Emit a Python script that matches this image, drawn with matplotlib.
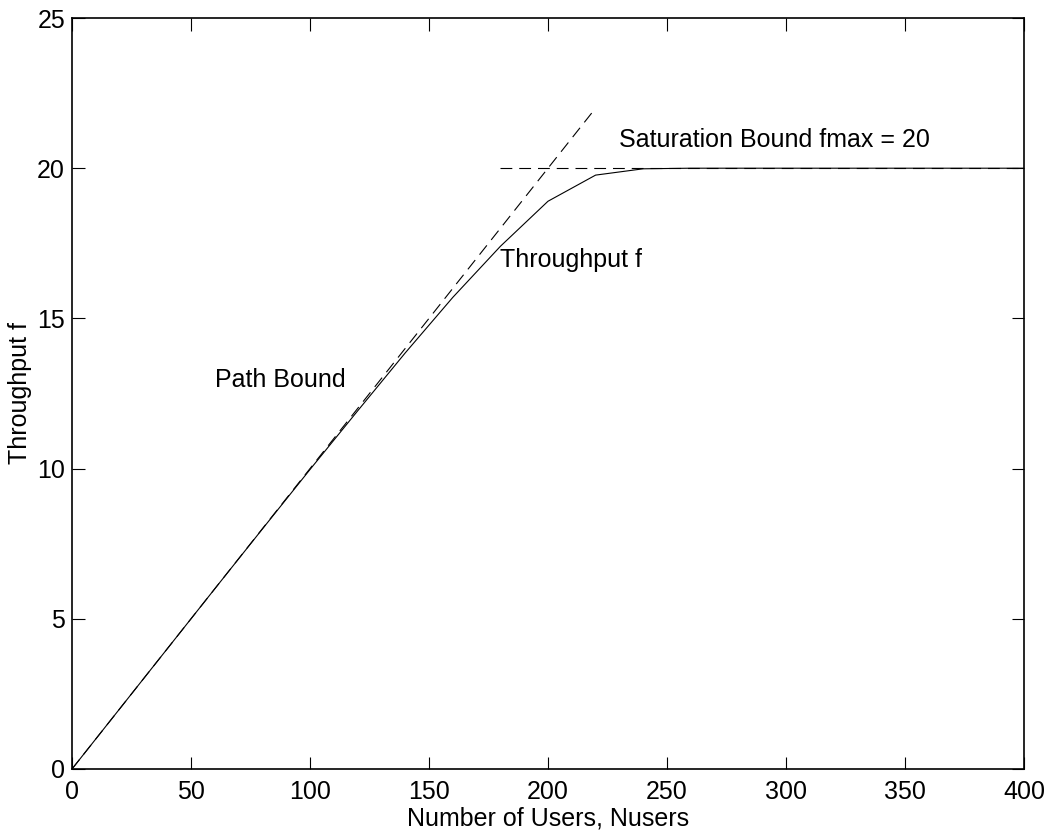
import matplotlib
matplotlib.use("Agg")
import matplotlib.pyplot as plt

plt.rcParams['font.family'] = ['Liberation Sans', 'DejaVu Sans']
plt.rcParams['lines.scale_dashes'] = False

users = [0, 20, 40, 60, 80, 100, 120, 140, 160, 180, 200, 220, 240, 260, 280,
         300, 320, 340, 360, 380, 400]
throughput = [0, 2.0, 4.0, 6.0, 7.99, 9.97, 11.92, 13.85, 15.7, 17.4, 18.9,
              19.77, 19.98, 20.0, 20.0, 20.0, 20.0, 20.0, 20.0, 20.0, 20.0]
path_x = [0, 220]
path_y = [0, 22]
sat_x = [180, 400]
sat_y = [20, 20]

xticks = [0, 50, 100, 150, 200, 250, 300, 350, 400]
yticks = [0, 5, 10, 15, 20, 25]

fig = plt.figure(figsize=(10.5, 8.31), dpi=100)
ax = fig.add_axes([72/1050, 1 - 769/831, 952/1050, 751/831])

ax.plot(users, throughput, color='black', lw=0.8)
ax.plot(path_x, path_y, color='black', lw=0.8, linestyle=(0, (8.5, 5)))
ax.plot(sat_x, sat_y, color='black', lw=0.8, linestyle=(0, (8.5, 5)))

fs = 18
ax.text(60, 12.95, 'Path Bound', fontsize=fs, va='center', ha='left')
ax.text(180, 16.95, 'Throughput f', fontsize=fs, va='center', ha='left')
ax.text(230, 20.95, 'Saturation Bound fmax = 20', fontsize=fs, va='center', ha='left')

ax.set_xlim(0, 400)
ax.set_ylim(0, 25)
ax.set_xticks(xticks)
ax.set_yticks(yticks)
ax.tick_params(direction='in', length=9, width=0.8, top=True, right=True,
               labelsize=fs)
ax.tick_params(axis='x', pad=8)
ax.tick_params(axis='y', pad=5)
for s in ax.spines.values():
    s.set_linewidth(1.2)
ax.set_xlabel('Number of Users, Nusers', fontsize=fs, labelpad=2)
ax.set_ylabel('Throughput f', fontsize=fs, labelpad=4)

fig.savefig('out.png', dpi=100)
